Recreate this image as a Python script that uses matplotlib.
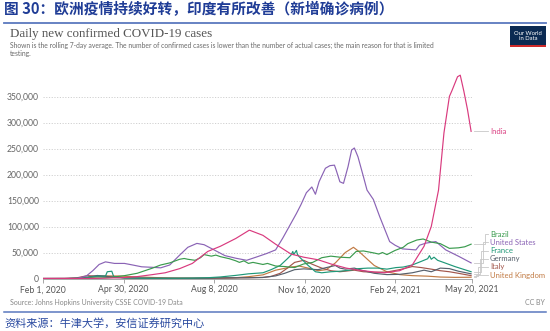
import numpy as np
import pandas as pd
import matplotlib
matplotlib.use("Agg")
import matplotlib.pyplot as plt
import matplotlib.dates as mdates
import matplotlib.transforms as mtransforms

plt.rcParams['font.family'] = ['Lato', 'Noto Sans CJK SC', 'DejaVu Sans']

# daily new confirmed cases, 7-day rolling average
india_dates = ['2020-02-01', '2020-03-15', '2020-04-01', '2020-04-15', '2020-05-01', '2020-05-15',
               '2020-06-01', '2020-06-15', '2020-07-01', '2020-07-15', '2020-08-01', '2020-08-15',
               '2020-09-01', '2020-09-16', '2020-10-01', '2020-10-15', '2020-11-01', '2020-11-15',
               '2020-12-01', '2020-12-15', '2021-01-01', '2021-01-15', '2021-02-01', '2021-02-12',
               '2021-03-01', '2021-03-15', '2021-03-28', '2021-04-05', '2021-04-13', '2021-04-19',
               '2021-04-25', '2021-04-28', '2021-05-04', '2021-05-07', '2021-05-11', '2021-05-15',
               '2021-05-19']
india_vals = [0, 100, 300, 900, 1800, 3600, 7500, 11000, 19000, 29000, 52000, 62000,
              77000, 93000, 83000, 66000, 47000, 41000, 36000, 28000, 20000, 16000, 12500, 11000,
              15000, 26000, 62000, 100000, 170000, 280000, 350000, 362000, 388000, 391000, 360000,
              325000, 283000]

us_dates = ['2020-02-01', '2020-03-10', '2020-03-20', '2020-03-27', '2020-04-03', '2020-04-10',
            '2020-04-20', '2020-05-01', '2020-05-10', '2020-05-20', '2020-06-01', '2020-06-10',
            '2020-06-20', '2020-07-01', '2020-07-10', '2020-07-20', '2020-07-28', '2020-08-08',
            '2020-08-20', '2020-09-01', '2020-09-13', '2020-09-25', '2020-10-05', '2020-10-15',
            '2020-10-23', '2020-11-07', '2020-11-12', '2020-11-18', '2020-11-24', '2020-11-28',
            '2020-12-02', '2020-12-09', '2020-12-14', '2020-12-19', '2020-12-21', '2020-12-25',
            '2020-12-29', '2021-01-03', '2021-01-07', '2021-01-10', '2021-01-14', '2021-01-20',
            '2021-01-24', '2021-01-31', '2021-02-07', '2021-02-18', '2021-02-24', '2021-03-04',
            '2021-03-19', '2021-03-23', '2021-03-30', '2021-04-10', '2021-04-21', '2021-05-06',
            '2021-05-19']
us_vals = [0, 100, 5000, 15000, 27000, 32000, 29000, 29000, 26000, 22500, 21500, 20500,
           26000, 45000, 60000, 67500, 65000, 55000, 44000, 39000, 35000, 42000, 48000, 55000,
           78000, 125000, 142000, 165000, 176000, 162000, 186000, 212000, 217000, 218000, 208000,
           186000, 183000, 215000, 247000, 251000, 234000, 196000, 170000, 152000, 119000, 71000,
           64000, 57000, 55000, 64000, 68000, 71000, 55000, 42000, 30000]

brazil_dates = ['2020-03-15', '2020-04-01', '2020-04-15', '2020-05-01', '2020-05-15', '2020-06-01',
                '2020-06-10', '2020-06-20', '2020-07-01', '2020-07-06', '2020-07-10', '2020-07-18',
                '2020-07-24', '2020-07-28', '2020-08-05', '2020-08-10', '2020-08-15', '2020-08-25',
                '2020-09-01', '2020-09-05', '2020-09-10', '2020-09-15', '2020-09-20', '2020-10-01',
                '2020-10-06', '2020-10-15', '2020-10-25', '2020-11-05', '2020-11-15', '2020-11-25',
                '2020-12-05', '2020-12-15', '2020-12-25', '2021-01-05', '2021-01-12', '2021-01-20',
                '2021-02-01', '2021-02-06', '2021-02-10', '2021-02-15', '2021-02-24', '2021-03-05',
                '2021-03-10', '2021-03-20', '2021-03-27', '2021-04-05', '2021-04-15', '2021-04-25',
                '2021-05-05', '2021-05-12', '2021-05-19']
brazil_vals = [0, 900, 2000, 5500, 10000, 20000, 26000, 30000, 37000, 38500, 37000, 35000,
               40000, 46000, 43000, 45000, 42000, 38000, 34000, 31000, 34000, 29000, 31000, 27000,
               29000, 24000, 23000, 21000, 28000, 31000, 40000, 43000, 41000, 40000, 52000, 53000,
               49000, 47000, 50000, 46000, 54000, 60000, 67000, 74000, 76000, 70000, 67000, 58000,
               59000, 61000, 66000]

france_dates = ['2020-03-01', '2020-03-20', '2020-04-01', '2020-04-10', '2020-04-12', '2020-04-17',
                '2020-04-19', '2020-05-01', '2020-06-01', '2020-07-01', '2020-07-15', '2020-08-01',
                '2020-08-15', '2020-09-01', '2020-09-15', '2020-10-01', '2020-10-10', '2020-10-20',
                '2020-10-28', '2020-11-01', '2020-11-03', '2020-11-04', '2020-11-07', '2020-11-08',
                '2020-11-10', '2020-11-14', '2020-11-20', '2020-11-28', '2020-12-05', '2020-12-15',
                '2020-12-25', '2021-01-05', '2021-01-15', '2021-01-25', '2021-02-05', '2021-02-15',
                '2021-02-25', '2021-03-05', '2021-03-15', '2021-03-25', '2021-04-01', '2021-04-03',
                '2021-04-05', '2021-04-08', '2021-04-12', '2021-04-20', '2021-05-01', '2021-05-10',
                '2021-05-19']
france_vals = [0, 1500, 4500, 4500, 13000, 14000, 4000, 1000, 500, 600, 800, 1500,
               3000, 6000, 9000, 11000, 17000, 25000, 38000, 45000, 52000, 46000, 54000, 47000,
               42000, 35000, 25000, 13000, 11000, 13000, 14000, 16000, 19000, 20000, 20000, 18000,
               21000, 22000, 26000, 33000, 38000, 44000, 37000, 41000, 35000, 30000, 23000, 18000,
               13000]

germany_dates = ['2020-02-01', '2020-03-10', '2020-03-20', '2020-04-01', '2020-04-10', '2020-04-20',
                 '2020-05-01', '2020-05-15', '2020-06-01', '2020-07-01', '2020-08-01', '2020-08-15',
                 '2020-09-01', '2020-09-15', '2020-10-01', '2020-10-15', '2020-10-25', '2020-11-05',
                 '2020-11-15', '2020-12-01', '2020-12-10', '2020-12-20', '2020-12-25', '2020-12-31',
                 '2021-01-10', '2021-01-20', '2021-02-01', '2021-02-15', '2021-03-01', '2021-03-15',
                 '2021-03-28', '2021-04-05', '2021-04-15', '2021-04-25', '2021-05-05', '2021-05-19']
germany_vals = [0, 100, 2500, 5800, 4500, 2000, 1000, 700, 400, 400, 700, 1200,
                1300, 1500, 2000, 5000, 10000, 17000, 18500, 17000, 21000, 25000, 20000, 18000,
                20000, 15000, 10000, 7500, 8000, 11000, 16000, 13000, 20000, 19000, 14000, 9000]

italy_dates = ['2020-02-01', '2020-02-25', '2020-03-10', '2020-03-21', '2020-04-01', '2020-04-15',
               '2020-05-01', '2020-05-15', '2020-06-01', '2020-07-01', '2020-08-01', '2020-08-20',
               '2020-09-01', '2020-09-15', '2020-10-01', '2020-10-10', '2020-10-20', '2020-10-28',
               '2020-11-05', '2020-11-15', '2020-11-25', '2020-12-05', '2020-12-15', '2020-12-25',
               '2021-01-10', '2021-01-20', '2021-02-01', '2021-02-15', '2021-03-01', '2021-03-15',
               '2021-03-25', '2021-04-05', '2021-04-15', '2021-04-25', '2021-05-05', '2021-05-19']
italy_vals = [0, 100, 1500, 5500, 4500, 3500, 1500, 700, 400, 200, 300, 800,
              1300, 1500, 2000, 4000, 10000, 20000, 31000, 35000, 27000, 20000, 15000, 13000,
              16000, 13000, 12000, 12500, 17000, 23000, 21000, 18000, 15000, 13000, 10000, 5500]

uk_dates = ['2020-02-01', '2020-03-10', '2020-03-25', '2020-04-10', '2020-04-25', '2020-05-10',
            '2020-06-01', '2020-06-20', '2020-07-15', '2020-08-01', '2020-08-20', '2020-09-01',
            '2020-09-15', '2020-10-01', '2020-10-15', '2020-11-01', '2020-11-10', '2020-11-20',
            '2020-12-01', '2020-12-10', '2020-12-20', '2020-12-31', '2021-01-09', '2021-01-15',
            '2021-01-25', '2021-02-01', '2021-02-15', '2021-03-01', '2021-03-15', '2021-04-01',
            '2021-04-15', '2021-05-01', '2021-05-19']
uk_vals = [0, 50, 2000, 5000, 4800, 3500, 2000, 1000, 600, 800, 1100, 1500,
           3500, 7000, 16000, 22000, 24000, 20000, 15000, 17000, 30000, 50000, 60000, 52000,
           36000, 25000, 13000, 7500, 5500, 4500, 2800, 2200, 2400]

countries = ['India', 'Brazil', 'United States', 'France', 'Germany', 'Italy', 'United Kingdom']
series = {
    'India': (india_dates, india_vals),
    'Brazil': (brazil_dates, brazil_vals),
    'United States': (us_dates, us_vals),
    'France': (france_dates, france_vals),
    'Germany': (germany_dates, germany_vals),
    'Italy': (italy_dates, italy_vals),
    'United Kingdom': (uk_dates, uk_vals),
}
colors = {
    'India': '#d93a7e',
    'Brazil': '#3a9b4e',
    'United States': '#8a63b5',
    'France': '#1f9878',
    'Germany': '#56606c',
    'Italy': '#a2564b',
    'United Kingdom': '#c17a43',
}
# label heights on the right-hand side
label_y = {
    'India': 283000,
    'Brazil': 85500,
    'United States': 69500,
    'France': 53500,
    'Germany': 38000,
    'Italy': 22700,
    'United Kingdom': 6700,
}
elbow_x = {'India': 1.033, 'Brazil': 1.030, 'United States': 1.026, 'France': 1.022,
           'Germany': 1.018, 'Italy': 1.014, 'United Kingdom': 1.010}

tick_dates = ['2020-02-01', '2020-04-30', '2020-08-08', '2020-11-16', '2021-02-24', '2021-05-20']
tick_labels = ['Feb 1, 2020', 'Apr 30, 2020', 'Aug 8, 2020', 'Nov 16, 2020', 'Feb 24, 2021', 'May 20, 2021']
y_ticks = [0, 50000, 100000, 150000, 200000, 250000, 300000, 350000]

fig = plt.figure(figsize=(5.5, 3.31), dpi=100)
fig.patch.set_facecolor('white')
ax = fig.add_axes([0.0782, 0.1586, 0.7800, 0.6284])

for c in countries[::-1]:
    d, v = series[c]
    ax.plot(pd.to_datetime(d), v, color=colors[c], lw=0.85, solid_joinstyle='round')

ax.set_xlim(pd.Timestamp('2020-02-01'), pd.Timestamp('2021-05-20'))
ax.set_ylim(0, 400000)
ax.set_yticks(y_ticks)
ax.set_yticklabels([f'{t:,}' for t in y_ticks])
ax.set_xticks(pd.to_datetime(tick_dates))
ax.set_xticklabels(tick_labels)
ax.tick_params(axis='y', length=0, pad=3, labelsize=6.2, labelcolor='#666666')
ax.tick_params(axis='x', length=3, width=0.6, color='#999999', pad=2, labelsize=6.2,
               labelcolor='#555555')
ax.grid(axis='y', color='#d0d0d0', lw=0.7, ls=(0, (1.2, 1.6)))
ax.set_axisbelow(True)
for s in ['top', 'right', 'left']:
    ax.spines[s].set_visible(False)
ax.spines['bottom'].set_color('#999999')
ax.spines['bottom'].set_linewidth(0.6)

# right-hand labels with elbow leader lines
trans = mtransforms.blended_transform_factory(ax.transAxes, ax.transData)
for c in countries:
    d, v = series[c]
    y0 = v[-1]
    y1 = label_y[c]
    ex = elbow_x[c]
    ax.plot([1.004, ex, ex, 1.038], [y0, y0, y1, y1], transform=trans, clip_on=False,
            color='#c8c8c8', lw=0.6)
    ax.text(1.042, y1, c, transform=trans, color=colors[c], fontsize=5.5,
            va='center', ha='left')

# header
fig.text(0.008, 0.972, '图 30：欧洲疫情持续好转，印度有所改善（新增确诊病例）',
         fontsize=10.6, fontweight='bold', color='#1f3c96', va='center', ha='left',
         family=['Noto Sans CJK SC', 'DejaVu Sans'])
fig.add_artist(plt.Line2D([0.008, 0.993], [0.932, 0.932], color='#5a78be', lw=1.3))
fig.text(0.018, 0.897, 'Daily new confirmed COVID-19 cases', fontsize=9.4,
         color='#555555', va='center', ha='left', family='Liberation Serif')
fig.text(0.018, 0.862, 'Shown is the rolling 7-day average. The number of confirmed cases is lower '
         'than the number of actual cases; the main reason for that is limited',
         fontsize=4.9, color='#6a6a6a', va='center', ha='left')
fig.text(0.018, 0.838, 'testing.', fontsize=4.9, color='#6a6a6a', va='center', ha='left')

# logo box
fig.add_artist(plt.Rectangle((0.928, 0.862), 0.065, 0.058, transform=fig.transFigure,
                             facecolor='#0b2a52', edgecolor='none'))
fig.add_artist(plt.Rectangle((0.928, 0.858), 0.065, 0.006, transform=fig.transFigure,
                             facecolor='#ce2a2a', edgecolor='none'))
fig.text(0.9605, 0.892, 'Our World\nin Data', fontsize=4.2, color='white', ha='center',
         va='center', linespacing=1.0)

# footer
fig.text(0.018, 0.085, 'Source: Johns Hopkins University CSSE COVID-19 Data', fontsize=5.0,
         color='#888888', va='center', ha='left')
fig.text(0.990, 0.085, 'CC BY', fontsize=5.0, color='#888888', va='center', ha='right')
fig.add_artist(plt.Line2D([0.008, 0.993], [0.057, 0.057], color='#5a78be', lw=1.1))
fig.text(0.008, 0.024, '资料来源：牛津大学，安信证券研究中心', fontsize=8.0, color='#2a4aa0',
         style='italic', va='center', ha='left', family=['Noto Sans CJK SC', 'DejaVu Sans'])

fig.savefig('out.png', dpi=100, facecolor='white')
